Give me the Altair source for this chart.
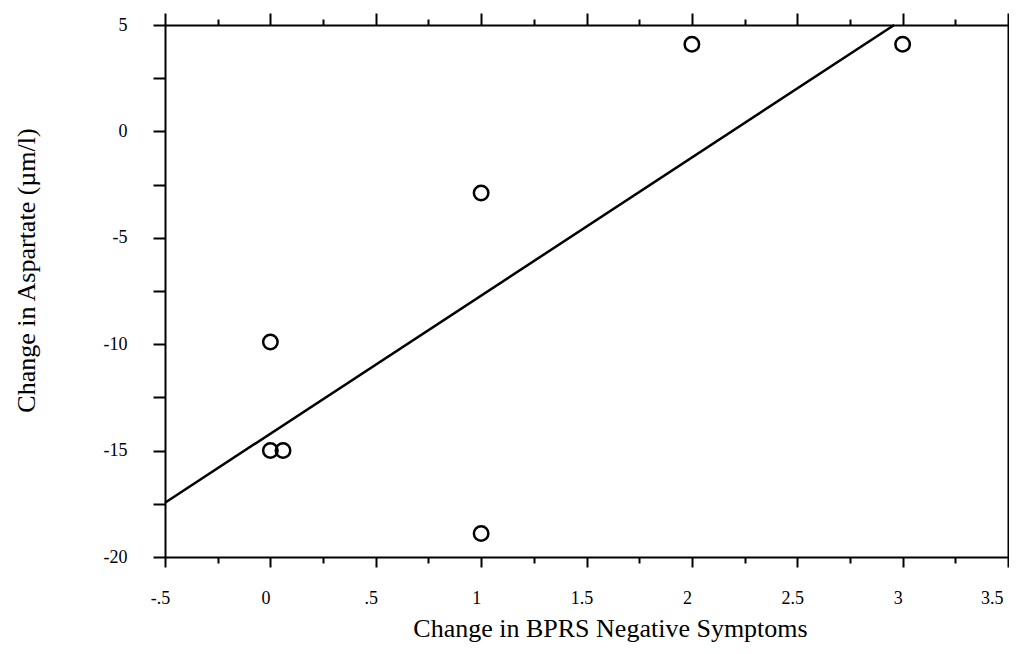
import altair as alt
import pandas as pd

# Scatter points (Change in BPRS Negative Symptoms vs Change in Aspartate)
bprs_change = [0.0, 0.0, 0.06, 1.0, 1.0, 2.0, 3.0]
aspartate_change = [-9.9, -15.0, -15.0, -2.9, -18.9, 4.1, 4.1]

# Regression line end points
line_x = [-0.5, 2.96]
line_y = [-17.45, 5.0]

# Axis ticks / labels
x_major = [-0.5, 0, 0.5, 1, 1.5, 2, 2.5, 3, 3.5]
x_major_labels = ["-.5", "0", ".5", "1", "1.5", "2", "2.5", "3", "3.5"]
x_minor = [-0.25, 0.25, 0.75, 1.25, 1.75, 2.25, 2.75, 3.25]
y_ticks = [5, 2.5, 0, -2.5, -5, -7.5, -10, -12.5, -15, -17.5, -20]
y_labels = ["5", "", "0", "", "-5", "", "-10", "", "-15", "", "-20"]

FONT = "Liberation Serif"

pts = pd.DataFrame({"x": bprs_change, "y": aspartate_change})
ln = pd.DataFrame({"x": line_x, "y": line_y})


def lookup_expr(values, labels):
    expr = "''"
    for v, lab in reversed(list(zip(values, labels))):
        expr = f"(abs(datum.value - ({v})) < 1e-6 ? '{lab}' : {expr})"
    return expr


xscale = alt.Scale(domain=[-0.5, 3.5], nice=False, zero=False)
yscale = alt.Scale(domain=[-20, 5], nice=False, zero=False)

common_axis = dict(grid=False, domainColor="black", tickColor="black",
                   domainWidth=2, tickWidth=2)
tick_only = {k: v for k, v in common_axis.items() if k not in ("domainColor", "domainWidth")}

points = alt.Chart(pts).mark_point(
    shape="circle", filled=False, size=210, color="black", strokeWidth=2.5, opacity=1
).encode(
    x=alt.X("x:Q", scale=xscale, axis=alt.Axis(
        orient="bottom", values=x_major, tickSize=10,
        labelExpr=lookup_expr(x_major, x_major_labels),
        labelFont=FONT, labelFontSize=18, labelColor="black",
        labelFlush=False, labelOffset=-5, labelBaseline="alphabetic", labelPadding=36,
        labelAlign={"condition": {"test": "datum.value > 3.4", "value": "right"},
                    "value": "center"},
        labelOverlap=False, labelBound=False,
        title="Change in BPRS Negative Symptoms", titleFont=FONT, titleFontSize=26,
        titleFontWeight="normal", titleColor="black", titleX=445, titleY=79,
        titleBaseline="alphabetic", **common_axis)),
    y=alt.Y("y:Q", scale=yscale, axis=alt.Axis(
        orient="left", values=y_ticks, tickSize=12,
        labelExpr=lookup_expr(y_ticks, y_labels),
        labelFont=FONT, labelFontSize=18, labelColor="black", labelPadding=26,
        labelFlush=False, labelOverlap=False,
        title="Change in Aspartate (µm/l)", titleFont=FONT, titleFontSize=26,
        titleFontWeight="normal", titleColor="black", titleX=-131, titleY=245,
        titleAngle=270, titleBaseline="alphabetic", **common_axis)),
)

line = alt.Chart(ln).mark_line(color="black", strokeWidth=2.5).encode(
    x=alt.X("x:Q", scale=xscale, axis=alt.Axis(
        orient="bottom", values=x_minor, tickSize=6, labels=False, title=None,
        domain=False, **tick_only)),
    y=alt.Y("y:Q", scale=yscale, axis=alt.Axis(
        orient="right", values=y_ticks, tickSize=6, labels=False, title=None,
        **common_axis)),
)

top_major = alt.Chart(pts).mark_point(opacity=0).encode(
    x=alt.X("x:Q", scale=xscale, axis=alt.Axis(
        orient="top", values=x_major, tickSize=12, labels=False, title=None,
        **common_axis)),
    y=alt.Y("y:Q", scale=yscale, axis=None),
)

top_minor = alt.Chart(pts).mark_point(opacity=0).encode(
    x=alt.X("x:Q", scale=xscale, axis=alt.Axis(
        orient="top", values=x_minor, tickSize=6, labels=False, title=None,
        domain=False, **tick_only)),
    y=alt.Y("y:Q", scale=yscale, axis=None),
)

chart = alt.layer(points, line, top_major, top_minor).resolve_axis(
    x="independent", y="independent"
).properties(
    width=843, height=532,
    autosize=alt.AutoSizeParams(type="none"),
    padding={"left": 157, "top": 17, "right": 1, "bottom": 85},
    background="white",
).configure_view(strokeWidth=0)

chart.save("out.html", embed_options={"renderer": "svg", "actions": False})
